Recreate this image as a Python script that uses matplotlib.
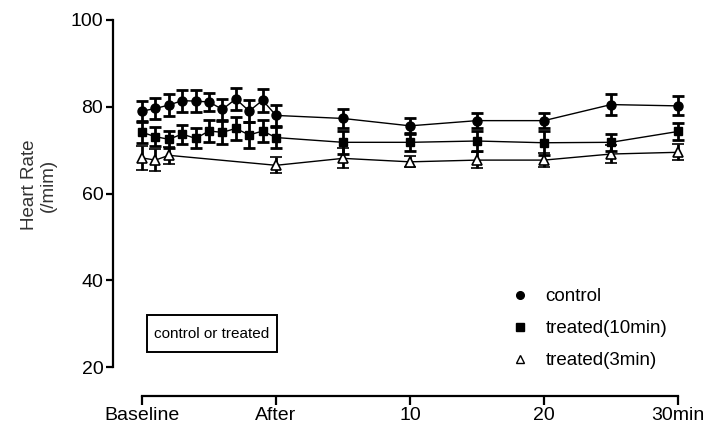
import numpy as np
import matplotlib
matplotlib.use('agg')
import matplotlib.pyplot as plt
from matplotlib.lines import Line2D
from matplotlib.patches import Rectangle

plt.rcParams['font.family'] = ['Liberation Sans', 'DejaVu Sans']

# time axis: 0..10 = baseline -> after (pre-phase), 15..40 = 5..30 min
t_all = [0, 1, 2, 3, 4, 5, 6, 7, 8, 9, 10, 15, 20, 25, 30, 35, 40]
control = [79.0, 79.6, 80.4, 81.4, 81.3, 81.1, 79.4, 81.8, 79.0, 81.5, 78.0,
           77.3, 75.6, 76.8, 76.8, 80.5, 80.2]
control_err = [2.3, 2.5, 2.5, 2.5, 2.5, 2.1, 2.5, 2.6, 2.5, 2.6, 2.4,
               2.2, 1.7, 1.8, 1.8, 2.5, 2.2]

treated10 = [74.1, 73.1, 72.5, 73.7, 72.7, 74.4, 74.1, 75.0, 73.5, 74.4, 72.9,
             71.8, 71.8, 72.1, 71.7, 71.8, 74.3]
treated10_err = [2.4, 2.2, 2.0, 2.2, 2.3, 2.5, 2.6, 2.6, 3.0, 2.5, 2.5,
                 2.7, 1.9, 2.2, 2.8, 1.9, 1.9]

t_3 = [0, 1, 2, 10, 15, 20, 25, 30, 35, 40]
treated3 = [68.2, 67.7, 68.8, 66.5, 68.1, 67.3, 67.7, 67.7, 69.1, 69.5]
treated3_err = [2.7, 2.5, 1.9, 1.8, 2.3, 1.3, 1.9, 1.7, 2.1, 1.8]

xtick_pos = [0, 10, 20, 30, 40]
xtick_labels = ['Baseline', 'After', '10', '20', '30min']
ytick_pos = [20, 40, 60, 80, 100]

W, H = 707, 432
fig = plt.figure(figsize=(W / 100, H / 100), dpi=100)
# axes: left spine at x=113px, y from 367px (20) to 20px (100)
ax = fig.add_axes([113 / W, (H - 367) / H, (700 - 113) / W, 347 / H])

err_kw = dict(color='black', elinewidth=2, capsize=4.5, capthick=2, lw=1)
ax.errorbar(t_3, treated3, yerr=treated3_err, marker='^', ms=7,
            mfc='white', mec='black', mew=1.2, zorder=3, **err_kw)
ax.errorbar(t_all, treated10, yerr=treated10_err, marker='s', ms=6,
            mfc='black', mec='black', zorder=4, **err_kw)
ax.errorbar(t_all, control, yerr=control_err, marker='o', ms=6.5,
            mfc='black', mec='black', zorder=5, **err_kw)

s = (678 - 142) / 40.0
ax.set_xlim(-(142 - 113) / s, 40 + (700 - 678) / s)
ax.set_ylim(20, 100)

for side in ['top', 'right']:
    ax.spines[side].set_visible(False)
ax.spines['left'].set_linewidth(1.6)
ax.spines['bottom'].set_linewidth(1.6)
ax.spines['left'].set_bounds(20, 100)
ax.spines['bottom'].set_bounds(0, 40)
ax.spines['bottom'].set_position(('outward', 29 * 0.72))

ax.set_xticks(xtick_pos)
ax.set_xticklabels(xtick_labels)
ax.set_yticks(ytick_pos)
ax.tick_params(axis='y', length=5, width=1.6, labelsize=14, pad=2)
ax.tick_params(axis='x', length=6.5, width=1.6, labelsize=14, pad=1.5)

ax.set_ylabel('Heart Rate\n(/mim)', fontsize=13.5, color='#333333', linespacing=1.15)
ax.yaxis.set_label_coords((57 - 113) / (700 - 113), (367 - 185) / 347)

handles = [
    Line2D([], [], ls='none', marker='o', ms=5.5, color='black'),
    Line2D([], [], ls='none', marker='s', ms=5.5, color='black'),
    Line2D([], [], ls='none', marker='^', ms=5.5, mfc='white', mec='black'),
]
ax.legend(handles, ['control', 'treated(10min)', 'treated(3min)'],
          loc='upper left', bbox_to_anchor=(511 / W, 1 - 288 / H),
          bbox_transform=fig.transFigure, frameon=False, fontsize=13.5,
          handlelength=1.0, handletextpad=0.85, labelspacing=0.8,
          borderaxespad=0, borderpad=0)

# boxed note
fig.patches.append(Rectangle((147 / W, 1 - 352 / H), 130 / W, 37 / H,
                             transform=fig.transFigure, fill=False,
                             ec='black', lw=1.4))
fig.text(212 / W, 1 - 333.5 / H, 'control or treated', fontsize=11,
         ha='center', va='center')

fig.savefig('out.png', dpi=100)
